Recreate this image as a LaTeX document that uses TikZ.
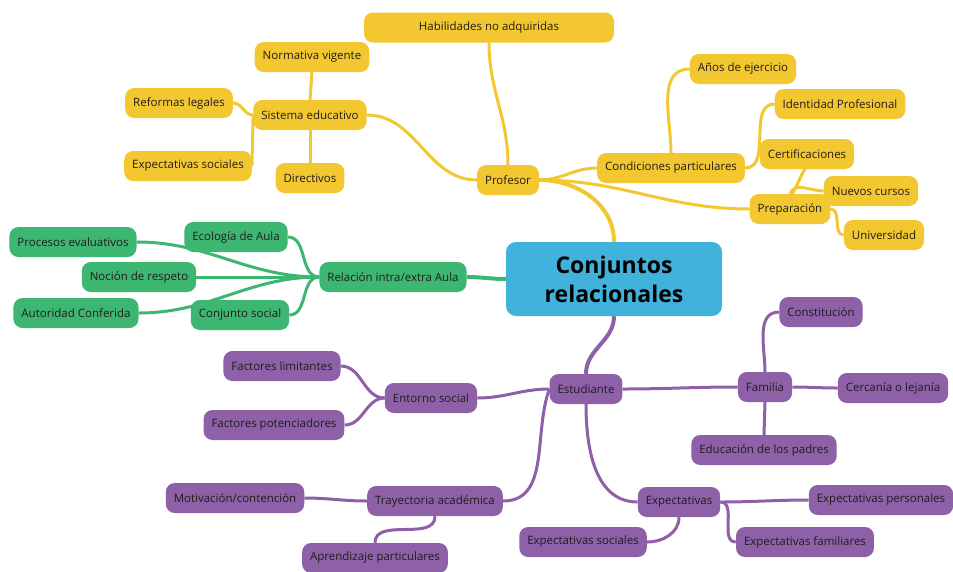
\documentclass[tikz,border=0pt]{standalone}
\usepackage{fontspec}
\setmainfont{Open Sans}
\usetikzlibrary{backgrounds}
\definecolor{amarillo}{RGB}{243,199,47}
\definecolor{verde}{RGB}{61,182,113}
\definecolor{morado}{RGB}{141,96,167}
\definecolor{celeste}{RGB}{65,178,220}
\definecolor{tinta}{RGB}{33,28,30}
\tikzset{
  rama/.style={rounded corners=9pt, minimum height=30pt, inner xsep=8pt, text=tinta, font=\fontsize{11.5}{13}\selectfont},
  amar/.style={rama, fill=amarillo},
  verd/.style={rama, fill=verde},
  mora/.style={rama, fill=morado},
  raiz/.style={rounded corners=10pt, fill=celeste, minimum width=216pt, minimum height=74pt, align=center, font=\fontsize{23}{29}\selectfont\bfseries},
}
\begin{document}
\begin{tikzpicture}[x=1pt, y=-1pt, line cap=round]
\useasboundingbox (0,0) rectangle (953,571);
    \node[raiz] (raiz) at (614, 279) {Conjuntos\\relacionales};
    % Profesor
    \node[amar] (prof) at (508, 180) {Profesor};
    \node[amar, minimum width=250pt] (hab) at (489, 27.5) {Habilidades no adquiridas};
    \node[amar] (sis) at (310, 115) {Sistema educativo};
    \node[amar] (norm) at (312, 57) {Normativa vigente};
    \node[amar] (ref) at (179, 103) {Reformas legales};
    \node[amar] (expsoc) at (188, 166) {Expectativas sociales};
    \node[amar] (dir) at (310, 178) {Directivos};
    \node[amar] (cond) at (671, 168) {Condiciones particulares};
    \node[amar] (anos) at (743, 69) {Años de ejercicio};
    \node[amar] (iden) at (840, 104) {Identidad Profesional};
    \node[amar] (cert) at (807, 154) {Certificaciones};
    \node[amar] (nuev) at (871, 191) {Nuevos cursos};
    \node[amar] (prep) at (790, 209) {Preparación};
    \node[amar] (univ) at (884, 235) {Universidad};
    % Relacion intra/extra Aula
    \node[verd] (rel) at (393, 277) {Relación intra/extra Aula};
    \node[verd] (eco) at (236, 237) {Ecología de Aula};
    \node[verd] (proc) at (73, 242) {Procesos evaluativos};
    \node[verd] (noc) at (139, 277) {Noción de respeto};
    \node[verd] (aut) at (76, 313) {Autoridad Conferida};
    \node[verd] (cs) at (240, 315) {Conjunto social};
    % Estudiante
    \node[mora] (est) at (586, 389) {Estudiante};
    \node[mora] (fam) at (765, 387) {Familia};
    \node[mora] (const) at (821, 312) {Constitución};
    \node[mora] (cerc) at (893, 388) {Cercanía o lejanía};
    \node[mora] (edu) at (764, 450) {Educación de los padres};
    \node[mora] (ent) at (431, 398) {Entorno social};
    \node[mora] (flim) at (282, 366) {Factores limitantes};
    \node[mora] (fpot) at (274, 425) {Factores potenciadores};
    \node[mora] (tray) at (435, 501) {Trayectoria académica};
    \node[mora] (mot) at (235, 498) {Motivación/contención};
    \node[mora] (apr) at (375, 558) {Aprendizaje particulares};
    \node[mora] (expe) at (679, 502) {Expectativas};
    \node[mora] (epers) at (881, 500) {Expectativas personales};
    \node[mora] (esoc) at (583, 542) {Expectativas sociales};
    \node[mora] (efam) at (805, 542) {Expectativas familiares};
\begin{scope}[on background layer]
    \draw[amarillo, line width=4pt] (prof.east) to[out=0, in=90] (raiz.north);
    \draw[verde, line width=4pt] (raiz.west) to[out=180, in=0] (rel.east);
    \draw[morado, line width=4pt] (raiz.south) to[out=-90, in=90] (est.north);
    \foreach \from/\to in {prof.north/hab.south, cert.south/prep.north}
        \draw[amarillo, line width=3pt] (\from) to[out=90, in=-90] (\to);
    \foreach \from/\to in {prof.east/cond.west, prof.east/prep.west, cond.east/iden.west, prep.east/univ.west}
        \draw[amarillo, line width=3pt] (\from) to[out=0, in=180] (\to);
    \foreach \from/\to in {prof.west/sis.east, sis.west/ref.east}
        \draw[amarillo, line width=3pt] (\from) to[out=180, in=0] (\to);
    \foreach \from/\to in {sis.north/norm.south, sis.south/dir.north, sis.west/expsoc.east}
        \draw[amarillo, line width=3pt] (\from) -- (\to);
    \draw[amarillo, line width=3pt] (cond.north) to[out=90, in=180] (anos.west);
    \draw[amarillo, line width=3pt] (prep.north) to[out=70, in=180] (nuev.west);
    \foreach \from/\to in {rel.west/eco.east, rel.west/proc.east, rel.west/noc.east, rel.west/aut.east, rel.west/cs.east}
        \draw[verde, line width=3pt] (\from) to[out=180, in=0] (\to);
    \foreach \from/\to in {est.west/ent.east, ent.west/flim.east, ent.west/fpot.east, tray.west/mot.east}
        \draw[morado, line width=3pt] (\from) to[out=180, in=0] (\to);
    \foreach \from/\to in {est.east/fam.west, fam.east/cerc.west, expe.east/epers.west, expe.east/efam.west}
        \draw[morado, line width=3pt] (\from) to[out=0, in=180] (\to);
    \draw[morado, line width=3pt] (est.west) to[out=-110, in=0] (tray.east);
    \draw[morado, line width=3pt] (est.south) to[out=-90, in=180] (expe.west);
    \draw[morado, line width=3pt] (fam.north) to[out=90, in=180] (const.west);
    \draw[morado, line width=3pt] (fam.south) -- (edu.north);
    \draw[morado, line width=3pt] (tray.south) to[out=-90, in=90] (apr.north);
    \draw[morado, line width=3pt] (expe.south) to[out=-90, in=0] (esoc.east);
\end{scope}
\end{tikzpicture}
\end{document}
